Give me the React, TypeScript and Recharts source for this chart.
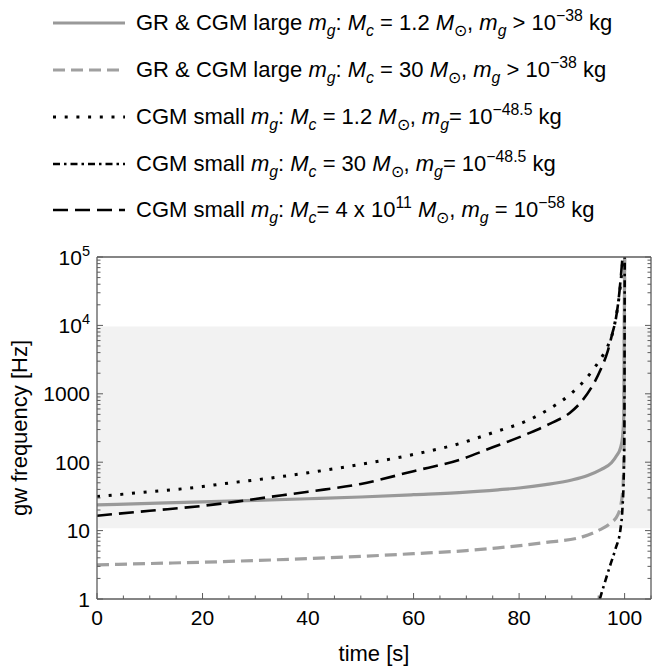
import { LineChart, Line, XAxis, YAxis, ReferenceArea } from 'recharts'

// time [s] and gw frequency [Hz]
const grLightT = [0, 10, 20, 30, 40, 50, 60, 70, 76, 80, 85, 90, 93, 95.5, 97.5, 98.5, 99.2, 99.6, 99.85, 100]
const grLightF = [23.7, 25, 26.3, 27.6, 29.2, 31, 33.5, 36.5, 39.5, 42, 47, 55, 64, 78, 98, 125, 160, 230, 500, 100000]

const grHeavyT = [0, 10, 20, 30, 40, 50, 60, 70, 76, 85, 92, 95, 97.2, 98.7, 99.3, 99.7, 99.9, 100]
const grHeavyF = [3.15, 3.3, 3.45, 3.65, 3.9, 4.2, 4.6, 5.1, 5.6, 6.7, 8.1, 10, 12.6, 17, 24, 45, 200, 100000]

const smallLightT = [0, 10, 20, 24, 30, 40, 50, 60, 69, 75, 82, 86, 89.6, 92, 94, 96, 96.8, 98, 98.7, 99.3, 99.7]
const smallLightF = [31.6, 37, 44, 48.5, 55, 70, 93, 130, 190, 270, 420, 620, 970, 1450, 2240, 3800, 4950, 9500, 19000, 45000, 100000]

const smallHeavyT = [95.3, 96.3, 97.2, 98.3, 99.2, 99.6, 99.85, 99.95, 100.02]
const smallHeavyF = [1, 1.8, 3, 5.5, 10.3, 22, 70, 300, 100000]

const smallHugeT = [0, 10, 20, 26.5, 30, 40, 50, 60, 68.8, 75, 82, 86, 89.6, 92, 94, 95.5, 96.8, 97.7, 98.3, 99, 99.6]
const smallHugeF = [16.5, 19.5, 23, 26.5, 29, 37, 48, 74, 109, 165, 268, 370, 525, 800, 1350, 2300, 4200, 7800, 12000, 30000, 100000]

const timeTicks = [0, 5, 10, 15, 20, 25, 30, 35, 40, 45, 50, 55, 60, 65, 70, 75, 80, 85, 90, 95, 100, 105]
const timeLabels = [0, 20, 40, 60, 80, 100]
const freqMajor = [1, 10, 100, 1000, 10000, 100000]
const freqLabels = ['1', '10', '100', '1000', '10^4', '10^5']
// detector band
const bandLow = 10.8
const bandHigh = 9600

const freqTicks: number[] = []
freqMajor.forEach((m, i) => {
  freqTicks.push(m)
  if (i < freqMajor.length - 1) for (let k = 2; k < 10; k++) freqTicks.push(m * k)
})

const zip = (t: number[], f: number[]) => t.map((v, i) => ({ t: v, f: f[i] }))

const FONT = '"Liberation Sans", Arial, sans-serif'
const FRAME = '#5c5c5c'
const GRAY = '#999999'

const series = [
  { key: 'grLight', data: zip(grLightT, grLightF), stroke: GRAY, width: 3.2, dash: undefined },
  { key: 'grHeavy', data: zip(grHeavyT, grHeavyF), stroke: '#a0a0a0', width: 3.2, dash: '12 6' },
  { key: 'smallLight', data: zip(smallLightT, smallLightF), stroke: '#000', width: 3, dash: '3 8.7' },
  { key: 'smallHeavy', data: zip(smallHeavyT, smallHeavyF), stroke: '#000', width: 2.6, dash: '7 4 2.5 4' },
  { key: 'smallHuge', data: zip(smallHugeT, smallHugeF), stroke: '#000', width: 2.6, dash: '15 7' },
]

const sub = (s: string, italic = true) => (
  <span style={{ fontSize: '0.72em', verticalAlign: '-0.35em', lineHeight: 0, fontStyle: italic ? 'italic' : 'normal' }}>{s}</span>
)
const sup = (s: string) => <span style={{ fontSize: '0.72em', verticalAlign: '0.55em', lineHeight: 0 }}>{s}</span>
const mg = <><i>m</i>{sub('g')}</>
const Mc = <><i>M</i>{sub('c')}</>
const Msun = <><i>M</i>{sub('⊙', false)}</>

const legendLabels = [
  <>GR &amp; CGM large {mg}: {Mc} = 1.2 {Msun}, {mg} &gt; 10{sup('−38')} kg</>,
  <>GR &amp; CGM large {mg}: {Mc} = 30 {Msun}, {mg} &gt; 10{sup('−38')} kg</>,
  <>CGM small {mg}: {Mc} = 1.2 {Msun}, {mg}= 10{sup('−48.5')} kg</>,
  <>CGM small {mg}: {Mc} = 30 {Msun}, {mg}= 10{sup('−48.5')} kg</>,
  <>CGM small {mg}: {Mc}= 4 x 10{sup('11')} {Msun}, {mg} = 10{sup('−58')} kg</>,
]

function TimeTick(props: any) {
  const { x, y, payload, top } = props
  const major = timeLabels.includes(payload.value)
  const len = major ? 6 : 3.5
  return (
    <g>
      <line x1={x} x2={x} y1={y} y2={top ? y + len : y - len} stroke={FRAME} strokeWidth={1} />
      {major && !top && (
        <text x={x} y={y + 26} textAnchor="middle" fontSize={21} fontFamily={FONT} fill="#000">
          {payload.value}
        </text>
      )}
    </g>
  )
}

function FreqTick(props: any) {
  const { x, y, payload, right } = props
  const idx = freqMajor.indexOf(payload.value)
  const len = idx >= 0 ? 6 : 3.5
  const label = idx >= 0 ? freqLabels[idx] : null
  let text = null
  if (label && !right) {
    const parts = label.split('^')
    text = (
      <text x={x - 7} y={y + 7.5} textAnchor="end" fontSize={21} fontFamily={FONT} fill="#000">
        {parts[0]}
        {parts[1] && (
          <tspan dy={-8.5} fontSize={14.5}>
            {parts[1]}
          </tspan>
        )}
      </text>
    )
  }
  return (
    <g>
      <line x1={x} x2={right ? x - len : x + len} y1={y} y2={y} stroke={FRAME} strokeWidth={1} />
      {text}
    </g>
  )
}

function Legend() {
  return (
    <div style={{ position: 'absolute', left: 0, top: 0, width: 652, fontFamily: FONT, fontSize: 22, color: '#000' }}>
      {series.map((s, i) => (
        <div
          key={s.key}
          style={{ position: 'absolute', left: 53, top: 23.3 + 46.75 * i - 14, height: 28, display: 'flex', alignItems: 'center', whiteSpace: 'nowrap' }}
        >
          <svg width={72} height={10} style={{ flex: 'none' }}>
            <line x1={0} x2={72} y1={5} y2={5} stroke={s.stroke} strokeWidth={s.width} strokeDasharray={s.dash} />
          </svg>
          <span style={{ marginLeft: 11 }}>{legendLabels[i]}</span>
        </div>
      ))}
    </div>
  )
}

export default function App() {
  return (
    <div style={{ position: 'absolute', left: 0, top: 0, width: 652, height: 667 }}>
      <Legend />
      <LineChart width={652} height={667} margin={{ top: 256, right: 0, bottom: 0, left: 0 }}>
        <ReferenceArea y1={bandLow} y2={bandHigh} fill="#f2f2f2" fillOpacity={1} stroke="none" ifOverflow="hidden" />
        <XAxis
          dataKey="t"
          type="number"
          domain={[0, 105]}
          allowDataOverflow
          ticks={timeTicks}
          interval={0}
          height={68}
          tickSize={0}
          tickMargin={0}
          tickLine={false}
          axisLine={{ stroke: FRAME, strokeWidth: 1.3 }}
          tick={<TimeTick />}
          label={{
            content: (p: any) => (
              <text
                x={p.viewBox.x + p.viewBox.width / 2}
                y={p.viewBox.y + 62}
                textAnchor="middle"
                fontSize={22}
                fontFamily={FONT}
                fill="#000"
              >
                time [s]
              </text>
            ),
          }}
        />
        <XAxis
          xAxisId="top"
          orientation="top"
          type="number"
          domain={[0, 105]}
          allowDataOverflow
          ticks={timeTicks}
          interval={0}
          height={1}
          tickSize={0}
          tickMargin={0}
          tickLine={false}
          axisLine={{ stroke: FRAME, strokeWidth: 1.3 }}
          tick={<TimeTick top />}
        />
        <YAxis
          scale="log"
          type="number"
          domain={[1, 100000]}
          allowDataOverflow
          ticks={freqTicks}
          interval={0}
          width={97}
          tickSize={0}
          tickMargin={0}
          tickLine={false}
          axisLine={{ stroke: FRAME, strokeWidth: 1.3 }}
          tick={<FreqTick />}
          label={{
            content: (p: any) => {
              const cy = p.viewBox.y + p.viewBox.height / 2
              return (
                <text
                  x={27}
                  y={cy}
                  transform={`rotate(-90, 27, ${cy})`}
                  textAnchor="middle"
                  fontSize={22}
                  fontFamily={FONT}
                  fill="#000"
                >
                  gw frequency [Hz]
                </text>
              )
            },
          }}
        />
        <YAxis
          yAxisId="right"
          orientation="right"
          scale="log"
          type="number"
          domain={[1, 100000]}
          allowDataOverflow
          ticks={freqTicks}
          interval={0}
          width={1}
          tickSize={0}
          tickMargin={0}
          tickLine={false}
          axisLine={{ stroke: FRAME, strokeWidth: 1.3 }}
          tick={<FreqTick right />}
        />
        {series.map((s) => (
          <Line
            key={s.key}
            data={s.data}
            dataKey="f"
            type="monotone"
            stroke={s.stroke}
            strokeWidth={s.width}
            strokeDasharray={s.dash}
            dot={false}
            activeDot={false}
            isAnimationActive={false}
          />
        ))}
      </LineChart>
    </div>
  )
}
